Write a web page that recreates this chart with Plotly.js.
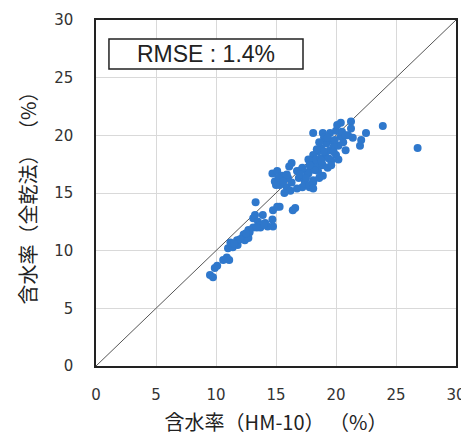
<!DOCTYPE html>
<html>
<head>
<meta charset="utf-8">
<script src="https://cdn.plot.ly/plotly-3.0.1.min.js"></script>
<style>html,body{margin:0;padding:0;background:#fff;}#chart{width:461px;height:436px;}</style>
</head>
<body>
<div id="chart"></div>
<script>
// Measured moisture content: HM-10 meter (x) vs. oven-dry method (y), %
const hm10 = [
  9.5, 9.75, 9.9, 10.1, 10.6, 10.9, 11.1, 11.0, 11.4, 11.2, 11.8, 11.75, 12.2, 12.4, 12.7, 12.3,
  12.7, 12.8, 13.1, 13.7, 14.3, 14.75, 13.1, 13.25, 13.9, 14.1, 13.5, 14.75, 13.3, 15.3, 15.1, 16.6,
  16.4, 14.7, 14.7, 15.1, 15.5, 14.9, 15.3, 15.9, 16.2, 15.7, 16.3, 16.75, 17.2, 17.6, 16.9, 17.4,
  17.2, 16.75, 17.8, 18.1, 18.0, 18.4, 16.3, 18.1, 18.9, 19.5, 20.0, 20.4, 21.25, 21.25, 21.0, 21.4,
  22.1, 22.0, 22.5, 20.4, 19.2, 19.75, 20.2, 18.75, 19.5, 20.0, 18.5, 18.1, 19.1, 18.3, 19.6, 20.2,
  18.9, 17.9, 19.3, 18.5, 17.7, 18.9, 18.1, 17.4, 17.1, 17.8, 18.1, 23.9, 26.8, 19.0, 20.6, 20.8,
  19.8, 18.6, 17.7, 16.0, 15.2, 17.0, 18.7, 19.4, 20.5,
  19.3, 19.0, 19.8, 18.4, 18.8, 19.6, 18.2, 18.6, 17.5, 17.8, 16.1, 15.6, 15.0, 15.9, 13.6, 12.5,
  12.0, 14.0, 13.4, 11.5, 20.8, 20.1, 19.9
];
const zenkan = [
  7.9, 7.7, 8.5, 8.7, 9.2, 9.4, 9.2, 10.2, 10.3, 10.7, 10.5, 10.9, 11.1, 10.9, 11.1, 11.4,
  11.8, 11.6, 12.0, 12.0, 12.1, 12.1, 12.8, 13.1, 13.1, 12.4, 12.5, 13.5, 14.2, 13.8, 13.8, 13.7,
  13.5, 12.7, 16.7, 16.9, 16.5, 16.0, 15.7, 15.5, 15.2, 15.0, 15.9, 16.9, 17.2, 16.8, 16.3, 16.1,
  15.5, 15.4, 15.5, 15.9, 17.8, 17.4, 17.6, 20.2, 20.2, 20.2, 20.4, 21.1, 21.2, 20.6, 20.0, 19.8,
  19.6, 19.1, 20.2, 19.9, 19.3, 19.5, 19.1, 18.9, 18.7, 18.3, 18.6, 18.3, 18.2, 17.9, 17.8, 17.9,
  17.4, 17.3, 17.2, 16.9, 16.7, 16.5, 16.1, 15.8, 17.0, 15.7, 15.4, 20.8, 18.9, 19.8, 19.4, 18.7,
  19.0, 19.4, 17.9, 16.3, 16.3, 16.6, 18.0, 18.0, 20.3,
  19.8, 18.6, 18.6, 18.8, 17.8, 17.4, 17.0, 16.3, 16.3, 17.4, 17.3, 16.0, 15.7, 16.6, 12.2, 11.5,
  11.0, 12.3, 12.0, 10.6, 20.0, 20.9, 19.6
];
const identityLine = [0, 30];
const tickVals = [0, 5, 10, 15, 20, 25, 30];
const rmseLabel = 'RMSE : 1.4%';
const xTitle = '含水率（HM-10） （%）';
const yTitle = '含水率（全乾法） （%）';

const traces = [
  {
    x: identityLine, y: identityLine, mode: 'lines', type: 'scatter',
    line: {color: '#555555', width: 1}, hoverinfo: 'skip', showlegend: false
  },
  {
    x: hm10, y: zenkan, mode: 'markers', type: 'scatter',
    marker: {color: '#2F78CC', size: 8, line: {width: 0}}, showlegend: false
  }
];

const axisCommon = {
  range: [0, 30], tickvals: tickVals, showgrid: true, gridcolor: '#d9d9d9', gridwidth: 1,
  zeroline: false, showline: true, linecolor: '#222222', linewidth: 1.6, mirror: true,
  ticks: '', ticklabeloverflow: 'allow',
  tickfont: {family: 'DejaVu Sans', size: 15, color: '#333333'}, fixedrange: true
};

const layout = {
  width: 461, height: 436,
  margin: {l: 96, r: 5, t: 20, b: 70},
  paper_bgcolor: '#ffffff', plot_bgcolor: '#ffffff',
  xaxis: Object.assign({}, axisCommon, {
    ticklabelstandoff: 14,
    title: {text: xTitle, standoff: 13, font: {family: 'Noto Sans CJK JP', size: 20, color: '#222222'}}
  }),
  yaxis: Object.assign({}, axisCommon, {
    ticklabelstandoff: 18,
    title: {text: yTitle, standoff: 12, font: {family: 'Noto Sans CJK JP', size: 20, color: '#222222'}}
  }),
  shapes: [{
    type: 'rect', xref: 'x', yref: 'y', x0: 1.08, x1: 17.25, y0: 25.76, y1: 28.36,
    line: {color: '#222222', width: 1.5}, fillcolor: '#ffffff', layer: 'above'
  }],
  annotations: [{
    xref: 'x', yref: 'y', x: 9.17, y: 27.06, text: rmseLabel, showarrow: false,
    xanchor: 'center', yanchor: 'middle',
    font: {family: 'Liberation Sans', size: 23, color: '#222222'}
  }]
};

Plotly.newPlot('chart', traces, layout, {displayModeBar: false, staticPlot: true});
</script>
</body>
</html>
